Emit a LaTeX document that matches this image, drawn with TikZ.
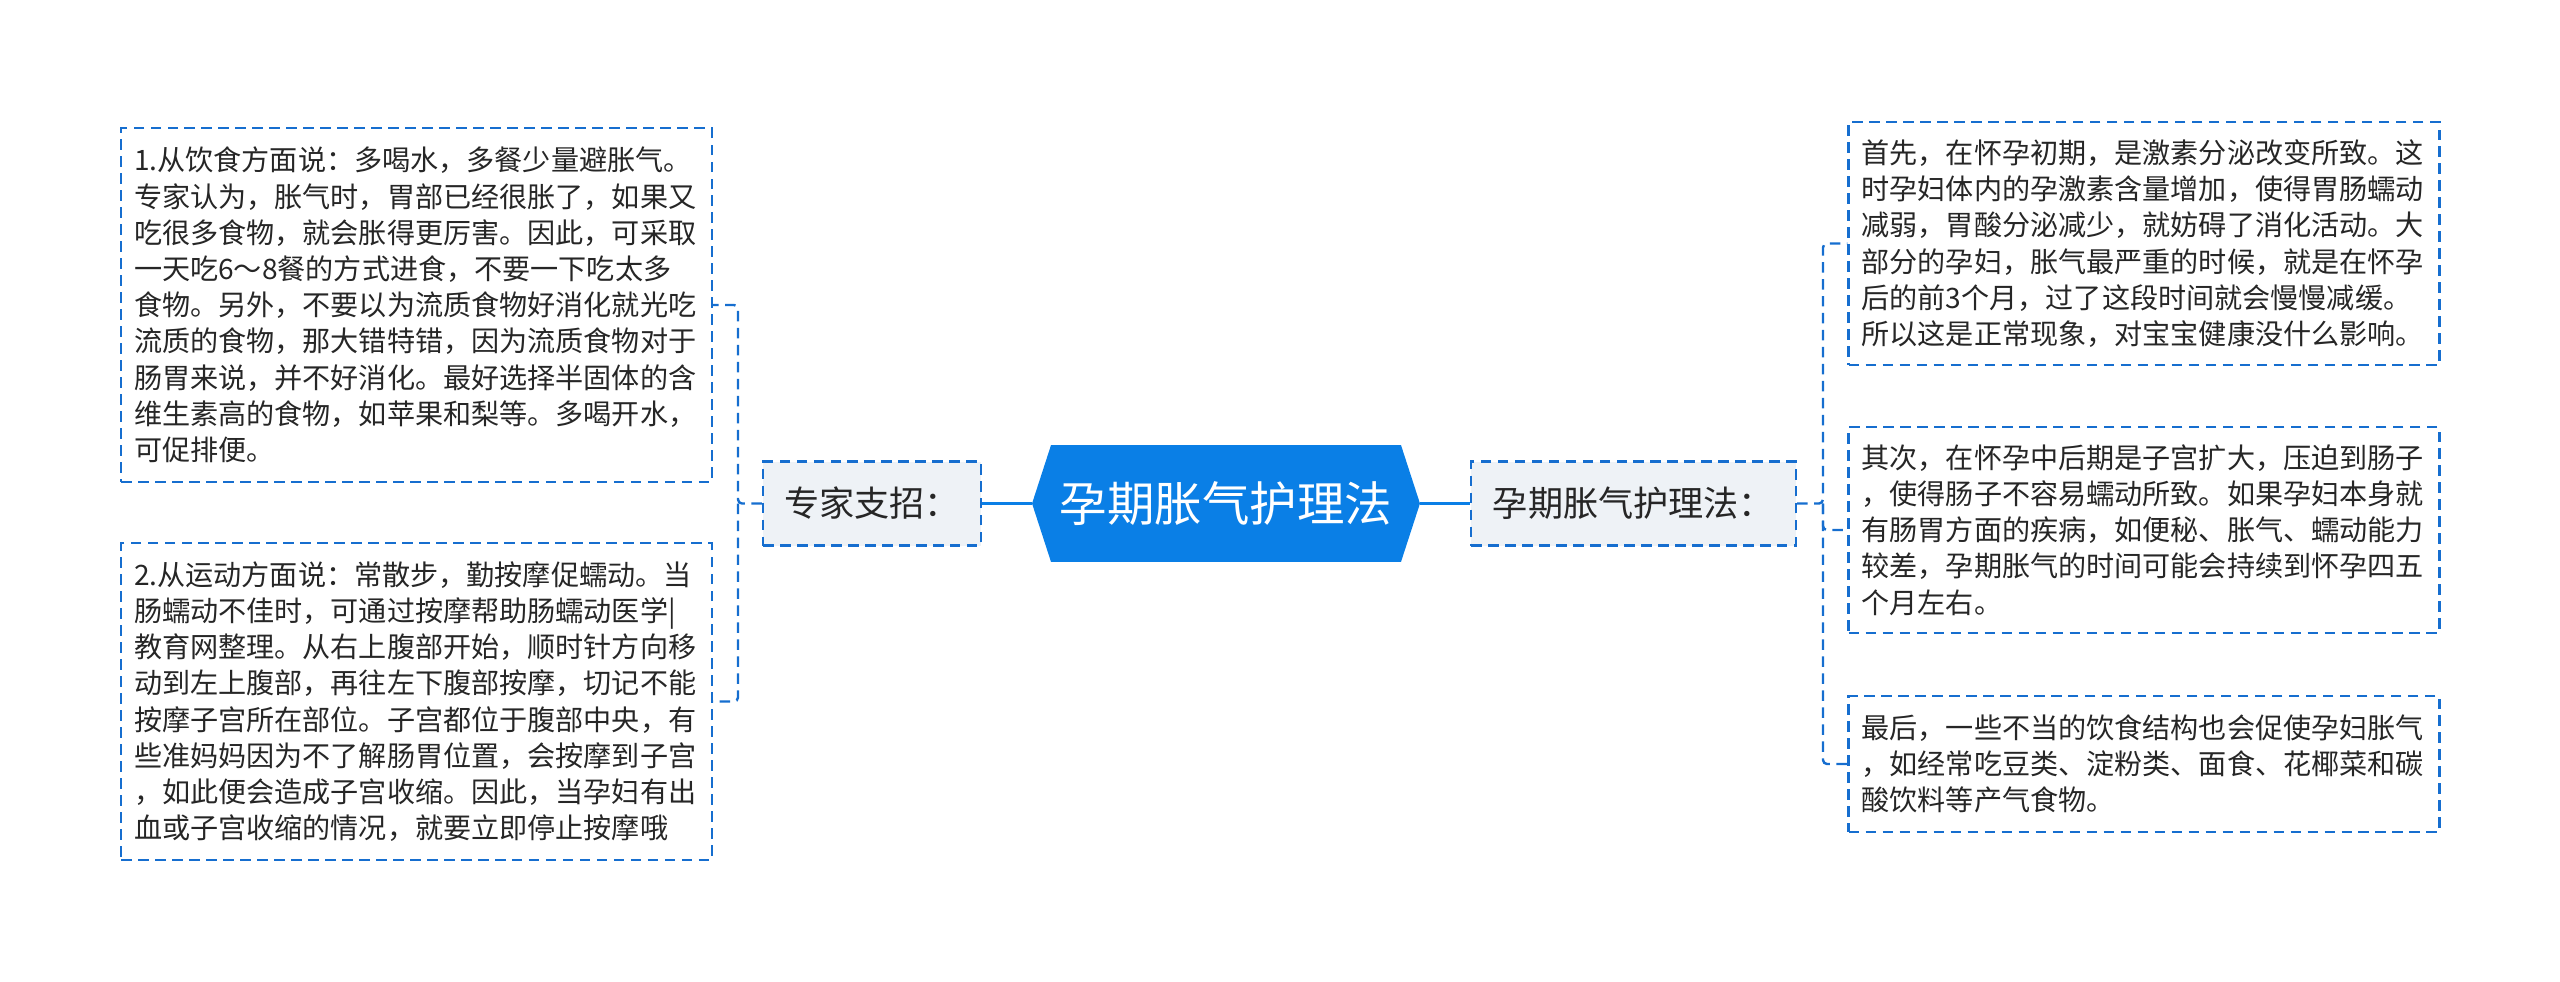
\documentclass[tikz,border=0pt]{standalone}
\usepackage{fontspec}
\setmainfont{Noto Sans CJK SC}
\usetikzlibrary{shapes.symbols}
\definecolor{mapblue}{HTML}{0A7FE6}
\definecolor{linkblue}{HTML}{166ECF}
\definecolor{midgray}{HTML}{EEF2F6}
\definecolor{inktext}{HTML}{262626}

\begin{document}
\begin{tikzpicture}[x=0.02cm,y=-0.02cm,
	txtbox/.style={draw=linkblue,dash pattern=on 0.21cm off 0.13cm,line width=0.048cm,
		text=inktext,align=left,text width=11.3cm,inner xsep=0.26cm,
		font=\fontsize{16pt}{20.6pt}\selectfont},
	midbox/.style={draw=linkblue,fill=midgray,dash pattern=on 0.21cm off 0.13cm,line width=0.048cm,
		text=inktext,minimum height=1.68cm,font=\fontsize{20pt}{24pt}\selectfont},
	rootnode/.style={signal,signal to=west and east,signal pointer angle=144,fill=mapblue,
		text=white,minimum width=7.76cm,minimum height=2.34cm,font=\fontsize{27pt}{32pt}\selectfont},
	twig/.style={draw=linkblue,dash pattern=on 0.21cm off 0.13cm,line width=0.048cm,rounded corners=0.08cm},
	stem/.style={draw=mapblue,line width=0.065cm}]

	\useasboundingbox (0,0) rectangle (2560,981);

	\node[rootnode] (root) at (1226,503.5) {孕期胀气护理法};

	% left branch
	\node[midbox,minimum width=4.36cm] (zj) at (872,503.5) {专家支招：};
	\node[txtbox,minimum height=7.08cm] (b1) at (416.5,305) {1.从饮食方面说：多喝水，多餐少量避胀气。\\
		专家认为，胀气时，胃部已经很胀了，如果又\\
		吃很多食物，就会胀得更厉害。因此，可采取\\
		一天吃6～8餐的方式进食，不要一下吃太多\\
		食物。另外，不要以为流质食物好消化就光吃\\
		流质的食物，那大错特错，因为流质食物对于\\
		肠胃来说，并不好消化。最好选择半固体的含\\
		维生素高的食物，如苹果和梨等。多喝开水，\\
		可促排便。};
	\node[txtbox,minimum height=6.34cm] (b2) at (416.5,701.5) {2.从运动方面说：常散步，勤按摩促蠕动。当\\
		肠蠕动不佳时，可通过按摩帮助肠蠕动医学|\\
		教育网整理。从右上腹部开始，顺时针方向移\\
		动到左上腹部，再往左下腹部按摩，切记不能\\
		按摩子宫所在部位。子宫都位于腹部中央，有\\
		些准妈妈因为不了解肠胃位置，会按摩到子宫\\
		，如此便会造成子宫收缩。因此，当孕妇有出\\
		血或子宫收缩的情况，就要立即停止按摩哦};

	% right branch
	\node[midbox,minimum width=6.5cm] (hl) at (1633.5,503.5) {孕期胀气护理法：};
	\node[txtbox,minimum height=4.86cm] (r1) at (2144,243.5) {首先，在怀孕初期，是激素分泌改变所致。这\\
		时孕妇体内的孕激素含量增加，使得胃肠蠕动\\
		减弱，胃酸分泌减少，就妨碍了消化活动。大\\
		部分的孕妇，胀气最严重的时候，就是在怀孕\\
		后的前3个月，过了这段时间就会慢慢减缓。\\
		所以这是正常现象，对宝宝健康没什么影响。};
	\node[txtbox,minimum height=4.12cm] (r2) at (2144,530) {其次，在怀孕中后期是子宫扩大，压迫到肠子\\
		，使得肠子不容易蠕动所致。如果孕妇本身就\\
		有肠胃方面的疾病，如便秘、胀气、蠕动能力\\
		较差，孕期胀气的时间可能会持续到怀孕四五\\
		个月左右。};
	\node[txtbox,minimum height=2.72cm] (r3) at (2144,764) {最后，一些不当的饮食结构也会促使孕妇胀气\\
		，如经常吃豆类、淀粉类、面食、花椰菜和碳\\
		酸饮料等产气食物。};

	\draw[stem] (zj.east) -- (root.west);
	\draw[stem] (root.east) -- (hl.west);

	\coordinate (lj) at (738,503.5);
	\coordinate (rj) at (1823,503.5);
	\draw[twig] (zj.west) -- (lj) |- (b1.east);
	\draw[twig] (lj) |- (b2.east);
	\draw[twig] (hl.east) -- (rj) |- (r1.west);
	\draw[twig] (rj) |- (r2.west);
	\draw[twig] (rj) |- (r3.west);

\end{tikzpicture}
\end{document}
